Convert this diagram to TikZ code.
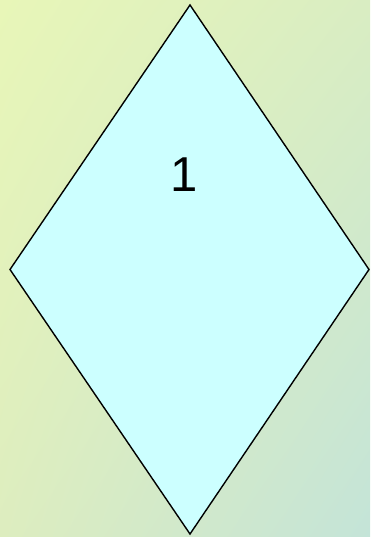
\documentclass[tikz,border=0pt]{standalone}
\usepackage{fontspec}
\setmainfont{Liberation Sans}
\usetikzlibrary{shadings}
\definecolor{bgUL}{HTML}{E8F6B8}
\definecolor{bgUR}{HTML}{D9EDC2}
\definecolor{bgLL}{HTML}{DDEDBF}
\definecolor{bgLR}{HTML}{C4E4D8}
\definecolor{dfill}{HTML}{CCFFFF}
\tikzset{diamondedge/.style={draw=black, line width=1.4pt, fill=dfill, line join=miter}}
\begin{document}
\begin{tikzpicture}[x=1pt,y=-1pt]
\path[upper left=bgUL, upper right=bgUR, lower left=bgLL, lower right=bgLR] (0,0) rectangle (370,537);
\useasboundingbox (0,0) rectangle (370,537);
\coordinate (t) at (190,5);
\coordinate (r) at (369,269.5);
\coordinate (b) at (190,534);
\coordinate (l) at (10,269.5);
\draw[diamondedge] (t) -- (r) -- (b) -- (l) -- cycle;
\node[font=\fontsize{49}{58}\selectfont, inner sep=0pt] (lbl) at (184.5,175) {1};
\end{tikzpicture}
\end{document}
